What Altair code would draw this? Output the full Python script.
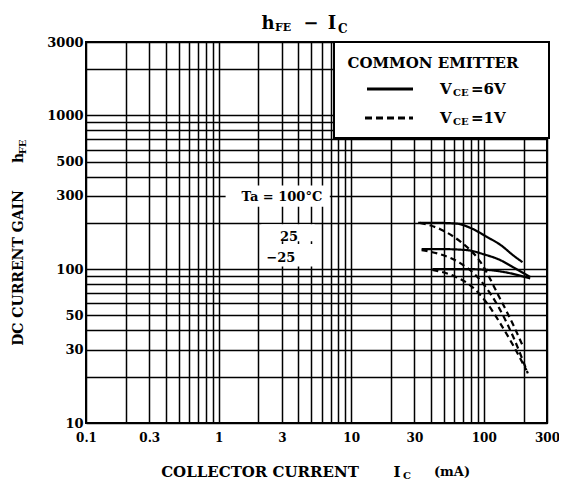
import altair as alt
import pandas as pd

FONT = "DejaVu Serif"

# ---- curve data (Ic in mA, hFE) ----
ic_s100 = [32, 45, 62, 80, 106, 135, 165, 196]
hfe_s100 = [200, 200, 198, 185, 162, 143, 124, 111]
ic_s25 = [34, 50, 75, 100, 132, 170, 224]
hfe_s25 = [135, 135, 133, 125, 115, 102, 89]
ic_sm25 = [41, 60, 80, 106, 150, 224]
hfe_sm25 = [100, 100, 100, 99, 95, 87]
ic_d100 = [33, 47, 66, 94, 132, 170, 196]
hfe_d100 = [200, 182, 152, 112, 65, 42, 32]
ic_d25 = [34, 47, 66, 94, 132, 170, 215]
hfe_d25 = [133, 125, 110, 85, 55, 35, 21]
ic_dm25 = [41, 60, 80, 106, 132, 170, 210]
hfe_dm25 = [99, 90, 78, 60, 45, 31, 22]

# ---- axes ----
x_grid = [0.1, 0.2, 0.3, 0.4, 0.5, 0.6, 0.7, 0.8, 0.9,
          1, 2, 3, 4, 5, 6, 7, 8, 9,
          10, 20, 30, 40, 50, 60, 70, 80, 90,
          100, 200, 300]
y_grid = [10, 20, 30, 40, 50, 60, 70, 80, 90,
          100, 200, 300, 400, 500, 600, 700, 800, 900,
          1000, 2000, 3000]
x_labels = "[0.1, 0.3, 1, 3, 10, 30, 100, 300]"
y_labels = "[10, 30, 50, 100, 300, 500, 1000, 3000]"

# ---- annotations ----
ann_text = ["Ta = 100°C", "25", "−25"]
ann_ic = [3.0, 3.4, 2.95]
ann_hfe = [295, 162, 118]
box_x1 = [1.13, 2.1, 2.1]
box_x2 = [6.9, 5.3, 5.3]
box_y1 = [255, 152, 104]
box_y2 = [350, 196, 146]

series = [
    ("100 6V", "6V", ic_s100, hfe_s100),
    ("25 6V", "6V", ic_s25, hfe_s25),
    ("-25 6V", "6V", ic_sm25, hfe_sm25),
    ("100 1V", "1V", ic_d100, hfe_d100),
    ("25 1V", "1V", ic_d25, hfe_d25),
    ("-25 1V", "1V", ic_dm25, hfe_dm25),
]
rows = []
for name, vce, ics, hs in series:
    for a, b in zip(ics, hs):
        rows.append({"series": name, "vce": vce, "ic": a, "hfe": b})
df = pd.DataFrame(rows)

xs = alt.Scale(type="log", domain=[0.1, 300], nice=False)
ys = alt.Scale(type="log", domain=[10, 3000], nice=False)

xaxis = alt.Axis(values=x_grid, format="~g",
                 labelExpr=f"indexof({x_labels}, datum.value) >= 0 ? datum.label : ''",
                 grid=True, gridColor="black", gridWidth=1.5, gridOpacity=1,
                 domain=False, ticks=False, title=None, labelOverlap=False,
                 labelFlush=False, labelFont=FONT, labelFontWeight="bold",
                 labelFontSize=12, labelColor="black", labelPadding=9)
yaxis = alt.Axis(values=y_grid, format="~g",
                 labelExpr=f"indexof({y_labels}, datum.value) >= 0 ? datum.label : ''",
                 grid=True, gridColor="black", gridWidth=1.5, gridOpacity=1,
                 domain=False, ticks=False, title=None, labelOverlap=False,
                 labelFlush=False, labelFont=FONT, labelFontWeight="bold",
                 labelFontSize=13, labelColor="black", labelPadding=3)

curves = alt.Chart(df).mark_line(color="black", strokeWidth=2.2, interpolate="monotone").encode(
    x=alt.X("ic:Q", scale=xs, axis=xaxis),
    y=alt.Y("hfe:Q", scale=ys, axis=yaxis),
    strokeDash=alt.StrokeDash("vce:N", scale=alt.Scale(domain=["6V", "1V"], range=[[1, 0], [6, 4]]), legend=None),
    detail="series:N",
)

boxes_df = pd.DataFrame({"ic": box_x1, "ic2": box_x2, "hfe": box_y1, "hfe2": box_y2})
boxes = alt.Chart(boxes_df).mark_rect(color="white").encode(
    x=alt.X("ic:Q", scale=xs, axis=xaxis), x2="ic2:Q",
    y=alt.Y("hfe:Q", scale=ys, axis=yaxis), y2="hfe2:Q",
)

ann_df = pd.DataFrame({"ic": ann_ic, "hfe": ann_hfe, "t": ann_text})
ann = alt.Chart(ann_df).mark_text(font=FONT, fontWeight="bold", fontSize=13, color="black").encode(
    x=alt.X("ic:Q", scale=xs, axis=xaxis),
    y=alt.Y("hfe:Q", scale=ys, axis=yaxis),
    text="t:N",
)

one = pd.DataFrame({"a": [0]})


def txt(s, x, y, size=13, align="center", angle=0, baseline="middle"):
    return alt.Chart(one).mark_text(text=s, font=FONT, fontWeight="bold", fontSize=size,
                                    align=align, baseline=baseline, angle=angle,
                                    color="black").encode(x=alt.value(x), y=alt.value(y))


legend_box = alt.Chart(one).mark_rect(fill="white", stroke="black", strokeWidth=2).encode(
    x=alt.value(248), x2=alt.value(463), y=alt.value(0), y2=alt.value(96))
leg_solid = alt.Chart(one).mark_rule(color="black", strokeWidth=3).encode(
    x=alt.value(281), x2=alt.value(327), y=alt.value(47))
leg_dash = alt.Chart(one).mark_rule(color="black", strokeWidth=3, strokeDash=[7, 4]).encode(
    x=alt.value(279), x2=alt.value(327), y=alt.value(76))

texts = [
    txt("COMMON EMITTER", 347, 21, size=15),
    txt("V", 354, 47, size=15, align="left"),
    txt("CE", 367, 51, size=10, align="left"),
    txt("=6V", 385, 47, size=15, align="left"),
    txt("V", 354, 76, size=15, align="left"),
    txt("CE", 367, 80, size=10, align="left"),
    txt("=1V", 385, 76, size=15, align="left"),
    # title
    txt("h", 182, -13, size=18, baseline="alphabetic"),
    txt("FE", 189, -11, size=11, align="left", baseline="alphabetic"),
    txt("−", 225, -18, size=18),
    txt("I", 246, -13, size=18, baseline="alphabetic"),
    txt("C", 252, -9, size=12, align="left", baseline="alphabetic"),
    # x axis title
    txt("COLLECTOR CURRENT", 174, 430, size=15),
    txt("I", 311, 430, size=15),
    txt("C", 317, 434, size=10, align="left"),
    txt("(mA)", 366, 430, size=13),
    # y axis title
    txt("DC CURRENT GAIN", -67, 226, size=14, angle=270),
    txt("h", -67, 116, size=14, angle=270),
    txt("FE", -63, 105, size=10, angle=270),
]

chart = alt.layer(curves, boxes, ann, legend_box, leg_solid, leg_dash, *texts).properties(
    width=461, height=381,
    padding={"left": 78, "top": 34, "right": 12, "bottom": 60},
    autosize="none",
).configure_view(stroke="black", strokeWidth=2)

chart.save("out.html", embed_options={"renderer": "svg", "actions": False})
